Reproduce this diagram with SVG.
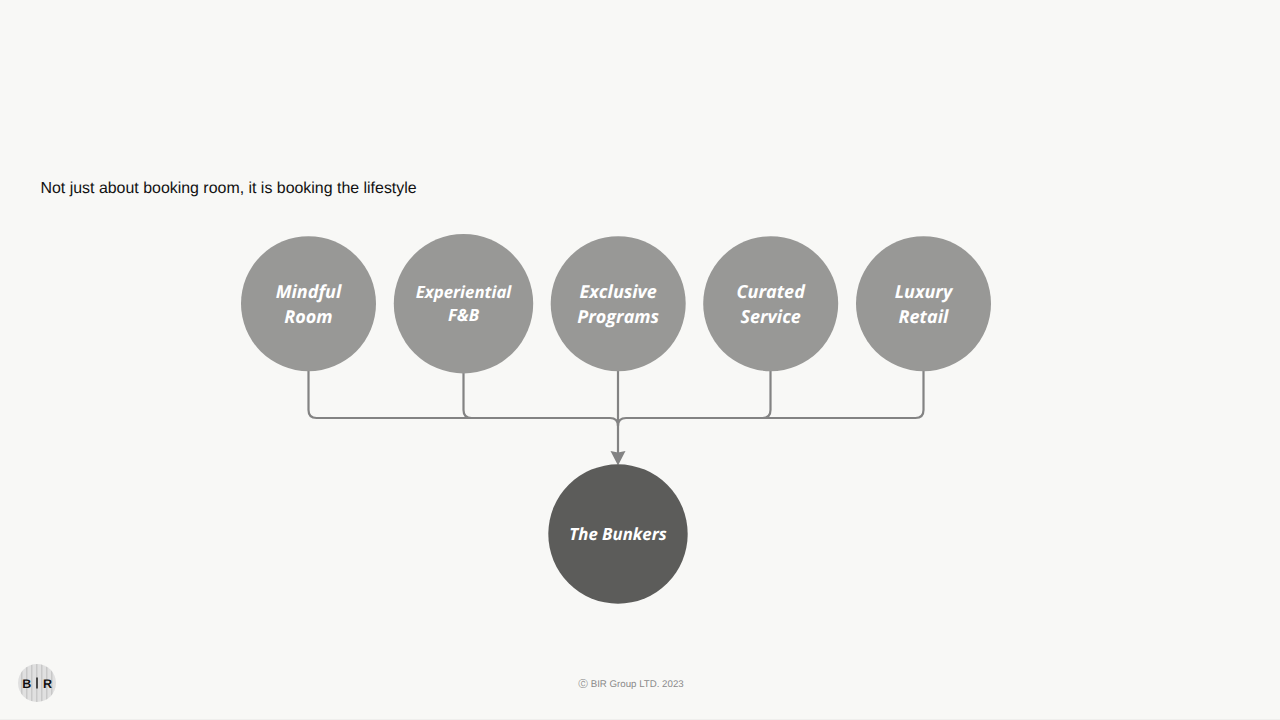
<svg xmlns="http://www.w3.org/2000/svg" width="1280" height="720" viewBox="0 0 1280 720" text-rendering="geometricPrecision">
<style>
.n{fill:#989896}
.d{fill:#5c5c5a}
.t{font-family:"Open Sans","Noto Sans",sans-serif;font-style:italic;font-weight:700;fill:#fff;text-anchor:middle;font-size:18px}
.s{font-size:16.800px}
.c{fill:none;stroke:#838383;stroke-width:2.200}
.l{font-family:"Liberation Sans",Arial,sans-serif;text-anchor:middle;font-size:12.500px;fill:#111;font-weight:700}
</style>
<defs><pattern id="st" width="5" height="10" patternUnits="userSpaceOnUse"><rect width="5" height="10" fill="#e0e0e0"/><rect x="1" width="1.500" height="10" fill="#c8c8c8"/></pattern></defs>
<rect width="1280" height="720" fill="#f8f8f6"/>
<rect y="719" width="1280" height="1" fill="#efefed"/>
<text x="40.500" y="193.200" font-family="Liberation Sans,Arial,sans-serif" font-size="15.930" fill="#111">Not just about booking room, it is booking the lifestyle</text>
<g id="connectors">
<path class="c" d="M308.500 371V410Q308.500 418 316.500 418H610Q618 418 618 426"/>
<path class="c" d="M463.500 373V410Q463.500 418 471.500 418"/>
<path class="c" d="M923.500 371V410Q923.500 418 915.500 418H626Q618 418 618 426"/>
<path class="c" d="M770.500 371V410Q770.500 418 762.500 418"/>
<path class="c" d="M618 371V455"/>
<path d="M610.500 451L618 452.500L625.500 451L618 465.500Z" fill="#838383"/>
</g>
<g id="n1"><circle class="n" cx="308.500" cy="303.700" r="67.500"/><text class="t" x="308.500" y="298.300">Mindful</text><text class="t" x="308.500" y="322.500">Room</text></g>
<g id="n2"><circle class="n" cx="463.500" cy="303.700" r="69.700"/><text class="t s" x="463.500" y="298.300">Experiential</text><text class="t s" x="463.500" y="321.200">F&amp;B</text></g>
<g id="n3"><circle class="n" cx="618.200" cy="303.700" r="67.500"/><text class="t" x="618.200" y="298.300">Exclusive</text><text class="t" x="618.200" y="322.500">Programs</text></g>
<g id="n4"><circle class="n" cx="770.700" cy="303.700" r="67.500"/><text class="t" x="770.700" y="298.300">Curated</text><text class="t" x="770.700" y="322.500">Service</text></g>
<g id="n5"><circle class="n" cx="923.500" cy="303.700" r="67.500"/><text class="t" x="923.500" y="298.300">Luxury</text><text class="t" x="923.500" y="322.500">Retail</text></g>
<g id="n6"><circle class="d" cx="618" cy="534" r="69.700"/><text class="t s" x="618" y="540.200">The Bunkers</text></g>
<g id="logo"><circle cx="37" cy="683" r="19" fill="url(#st)"/><text class="l" x="26.700" y="687.500">B</text><rect x="36.300" y="677.500" width="1.400" height="11" fill="#111"/><text class="l" x="47.500" y="687.500">R</text></g>
<text x="631" y="686.800" text-anchor="middle" font-family="Liberation Sans,Arial,sans-serif" font-size="9.700" fill="#8a8a8a">Ⓒ BIR Group LTD. 2023</text>
</svg>
